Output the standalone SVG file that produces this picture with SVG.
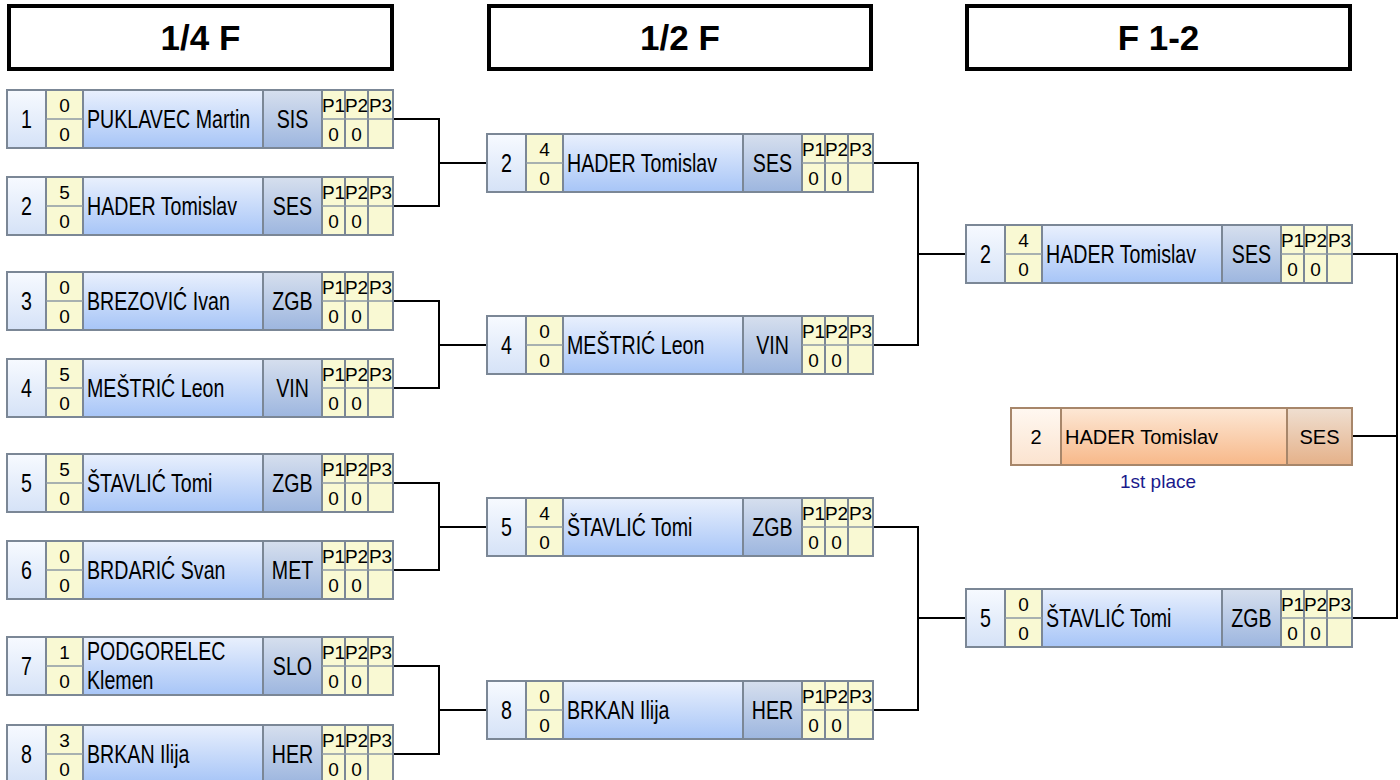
<svg xmlns="http://www.w3.org/2000/svg" xmlns:xlink="http://www.w3.org/1999/xlink" width="1400" height="780" viewBox="0 0 1400 780">
<style>
text{font-family:"Liberation Sans",Arial,sans-serif;fill:#000}
.c{text-anchor:middle}
.b{font-size:25px}
.s{font-size:19px}
.hd{font-size:35px;font-weight:bold;text-anchor:middle}
.hbox{fill:#fff;stroke:#000;stroke-width:4}
.con{fill:none;stroke:#000;stroke-width:2}
.fb{font-size:20px}
.pl{font-size:19px;fill:#1a1a8c;text-anchor:middle}
</style>
<defs>
<linearGradient id="gSeed" x1="0" y1="0" x2="0" y2="1"><stop offset="0" stop-color="#f7faff"/><stop offset="1" stop-color="#d5e2f7"/></linearGradient>
<linearGradient id="gName" x1="0" y1="0" x2="0" y2="1"><stop offset="0" stop-color="#e9f0fd"/><stop offset="1" stop-color="#a7c5f7"/></linearGradient>
<linearGradient id="gClub" x1="0" y1="0" x2="0" y2="1"><stop offset="0" stop-color="#d6dfee"/><stop offset="1" stop-color="#9db6df"/></linearGradient>
<linearGradient id="gFSeed" x1="0" y1="0" x2="0" y2="1"><stop offset="0" stop-color="#fff8f1"/><stop offset="1" stop-color="#fbe3cf"/></linearGradient>
<linearGradient id="gFName" x1="0" y1="0" x2="0" y2="1"><stop offset="0" stop-color="#fde8d6"/><stop offset="1" stop-color="#f7b889"/></linearGradient>
<linearGradient id="gFClub" x1="0" y1="0" x2="0" y2="1"><stop offset="0" stop-color="#efdfd1"/><stop offset="1" stop-color="#e5b189"/></linearGradient>
<g id="nb">
<rect x="0" y="0" width="39" height="58" fill="url(#gSeed)"/>
<rect x="39" y="0" width="37" height="58" fill="#f9f9d3"/>
<rect x="76" y="0" width="180" height="58" fill="url(#gName)"/>
<rect x="256" y="0" width="59" height="58" fill="url(#gClub)"/>
<rect x="315" y="0" width="71" height="58" fill="#f9f9d3"/>
<path d="M39 0V58M76 0V58M256 0V58M315 0V58M338 0V58M361 0V58" stroke="#7b8796" stroke-width="2" fill="none"/>
<path d="M39 29H76M315 29H386" stroke="#8d99a5" stroke-width="1.5" fill="none"/>
<rect x="0" y="0" width="386" height="58" fill="none" stroke="#7b8796" stroke-width="2"/>
<text class="s c" x="326.5" y="22">P1</text>
<text class="s c" x="349.5" y="22">P2</text>
<text class="s c" x="373.5" y="22">P3</text>
<text class="s c" x="326.5" y="51">0</text>
<text class="s c" x="349.5" y="51">0</text>
</g>
</defs>

<g id="headers">
<g id="h1"><rect class="hbox" x="9" y="6" width="383" height="63"/><text class="hd" x="200.5" y="50">1/4 F</text></g>
<g id="h2"><rect class="hbox" x="489" y="6" width="382" height="63"/><text class="hd" x="680" y="50">1/2 F</text></g>
<g id="h3"><rect class="hbox" x="967" y="6" width="383" height="63"/><text class="hd" x="1158.5" y="50">F 1-2</text></g>
</g>

<g id="connectors" class="con">
<path d="M393 119H439V206H393M439 163H487"/>
<path d="M393 301H439V388H393M439 345H487"/>
<path d="M393 483H439V570H393M439 527H487"/>
<path d="M393 666H439V754H393M439 710H487"/>
<path d="M873 163H918V345H873M918 254H966"/>
<path d="M873 527H918V710H873M918 618H966"/>
<path d="M1352 254H1397V618H1352M1352 436H1397"/>
</g>

<g id="q1" transform="translate(7 90)"><use xlink:href="#nb"/><text class="s c" x="57.5" y="22">0</text><text class="s c" x="57.5" y="51">0</text><g transform="scale(0.785 1)">
<text class="b c" x="24.8" y="38">1</text><text class="b" x="101.9" y="38">PUKLAVEC Martin</text><text class="b c" x="363.7" y="38">SIS</text></g></g>

<g id="q2" transform="translate(7 177)"><use xlink:href="#nb"/><text class="s c" x="57.5" y="22">5</text><text class="s c" x="57.5" y="51">0</text><g transform="scale(0.785 1)">
<text class="b c" x="24.8" y="38">2</text><text class="b" x="101.9" y="38">HADER Tomislav</text><text class="b c" x="363.7" y="38">SES</text></g></g>

<g id="q3" transform="translate(7 272)"><use xlink:href="#nb"/><text class="s c" x="57.5" y="22">0</text><text class="s c" x="57.5" y="51">0</text><g transform="scale(0.785 1)">
<text class="b c" x="24.8" y="38">3</text><text class="b" x="101.9" y="38">BREZOVIĆ Ivan</text><text class="b c" x="363.7" y="38">ZGB</text></g></g>

<g id="q4" transform="translate(7 359)"><use xlink:href="#nb"/><text class="s c" x="57.5" y="22">5</text><text class="s c" x="57.5" y="51">0</text><g transform="scale(0.785 1)">
<text class="b c" x="24.8" y="38">4</text><text class="b" x="101.9" y="38">MEŠTRIĆ Leon</text><text class="b c" x="363.7" y="38">VIN</text></g></g>

<g id="q5" transform="translate(7 454)"><use xlink:href="#nb"/><text class="s c" x="57.5" y="22">5</text><text class="s c" x="57.5" y="51">0</text><g transform="scale(0.785 1)">
<text class="b c" x="24.8" y="38">5</text><text class="b" x="101.9" y="38">ŠTAVLIĆ Tomi</text><text class="b c" x="363.7" y="38">ZGB</text></g></g>

<g id="q6" transform="translate(7 541)"><use xlink:href="#nb"/><text class="s c" x="57.5" y="22">0</text><text class="s c" x="57.5" y="51">0</text><g transform="scale(0.785 1)">
<text class="b c" x="24.8" y="38">6</text><text class="b" x="101.9" y="38">BRDARIĆ Svan</text><text class="b c" x="363.7" y="38">MET</text></g></g>

<g id="q7" transform="translate(7 637)"><use xlink:href="#nb"/><text class="s c" x="57.5" y="22">1</text><text class="s c" x="57.5" y="51">0</text><g transform="scale(0.785 1)">
<text class="b c" x="24.8" y="38">7</text><text class="b" x="101.9" y="23">PODGORELEC</text><text class="b" x="101.9" y="52">Klemen</text><text class="b c" x="363.7" y="38">SLO</text></g></g>

<g id="q8" transform="translate(7 725)"><use xlink:href="#nb"/><text class="s c" x="57.5" y="22">3</text><text class="s c" x="57.5" y="51">0</text><g transform="scale(0.785 1)">
<text class="b c" x="24.8" y="38">8</text><text class="b" x="101.9" y="38">BRKAN Ilija</text><text class="b c" x="363.7" y="38">HER</text></g></g>

<g id="s1" transform="translate(487 134)"><use xlink:href="#nb"/><text class="s c" x="57.5" y="22">4</text><text class="s c" x="57.5" y="51">0</text><g transform="scale(0.785 1)">
<text class="b c" x="24.8" y="38">2</text><text class="b" x="101.9" y="38">HADER Tomislav</text><text class="b c" x="363.7" y="38">SES</text></g></g>

<g id="s2" transform="translate(487 316)"><use xlink:href="#nb"/><text class="s c" x="57.5" y="22">0</text><text class="s c" x="57.5" y="51">0</text><g transform="scale(0.785 1)">
<text class="b c" x="24.8" y="38">4</text><text class="b" x="101.9" y="38">MEŠTRIĆ Leon</text><text class="b c" x="363.7" y="38">VIN</text></g></g>

<g id="s3" transform="translate(487 498)"><use xlink:href="#nb"/><text class="s c" x="57.5" y="22">4</text><text class="s c" x="57.5" y="51">0</text><g transform="scale(0.785 1)">
<text class="b c" x="24.8" y="38">5</text><text class="b" x="101.9" y="38">ŠTAVLIĆ Tomi</text><text class="b c" x="363.7" y="38">ZGB</text></g></g>

<g id="s4" transform="translate(487 681)"><use xlink:href="#nb"/><text class="s c" x="57.5" y="22">0</text><text class="s c" x="57.5" y="51">0</text><g transform="scale(0.785 1)">
<text class="b c" x="24.8" y="38">8</text><text class="b" x="101.9" y="38">BRKAN Ilija</text><text class="b c" x="363.7" y="38">HER</text></g></g>

<g id="f1" transform="translate(966 225)"><use xlink:href="#nb"/><text class="s c" x="57.5" y="22">4</text><text class="s c" x="57.5" y="51">0</text><g transform="scale(0.785 1)">
<text class="b c" x="24.8" y="38">2</text><text class="b" x="101.9" y="38">HADER Tomislav</text><text class="b c" x="363.7" y="38">SES</text></g></g>

<g id="f2" transform="translate(966 589)"><use xlink:href="#nb"/><text class="s c" x="57.5" y="22">0</text><text class="s c" x="57.5" y="51">0</text><g transform="scale(0.785 1)">
<text class="b c" x="24.8" y="38">5</text><text class="b" x="101.9" y="38">ŠTAVLIĆ Tomi</text><text class="b c" x="363.7" y="38">ZGB</text></g></g>

<g id="winner">
<rect x="1011" y="408" width="50" height="57" fill="url(#gFSeed)"/>
<rect x="1061" y="408" width="226" height="57" fill="url(#gFName)"/>
<rect x="1287" y="408" width="65" height="57" fill="url(#gFClub)"/>
<path d="M1061 408V465M1287 408V465" stroke="#a7866a" stroke-width="2"/>
<rect x="1011" y="408" width="341" height="57" fill="none" stroke="#a7866a" stroke-width="2"/>
<text class="fb c" x="1036" y="444">2</text>
<text class="fb" x="1065" y="444">HADER Tomislav</text>
<text class="fb c" x="1319.5" y="444">SES</text>
<text class="pl" x="1158" y="488">1st place</text>
</g>
</svg>
